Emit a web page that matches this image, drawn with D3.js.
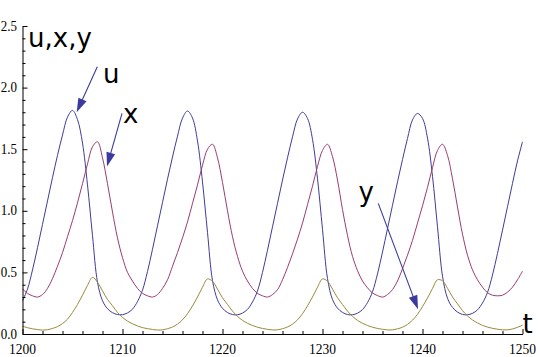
<!DOCTYPE html>
<html>
<head>
<meta charset="utf-8">
<script src="https://cdn.jsdelivr.net/npm/d3@7"></script>
<style>
  html, body { margin: 0; padding: 0; background: #fff; }
  svg { display: block; }
</style>
</head>
<body>
<svg id="chart" width="540" height="357"></svg>
<script>
// ---- data ----
const times = [
  1200,1200.5,1201,1201.5,1202,1202.5,1203,1203.5,1204,1204.5,
  1205,1205.5,1206,1206.5,1207,1207.5,1208,1208.5,1209,1209.5,
  1210,1210.5,1211,1211.5,1212,1212.5,1213,1213.5,1214,1214.5,
  1215,1215.5,1216,1216.5,1217,1217.5,1218,1218.5,1219,1219.5,
  1220,1220.5,1221,1221.5,1222,1222.5,1223,1223.5,1224,1224.5,
  1225,1225.5,1226,1226.5,1227,1227.5,1228,1228.5,1229,1229.5,
  1230,1230.5,1231,1231.5,1232,1232.5,1233,1233.5,1234,1234.5,
  1235,1235.5,1236,1236.5,1237,1237.5,1238,1238.5,1239,1239.5,
  1240,1240.5,1241,1241.5,1242,1242.5,1243,1243.5,1244,1244.5,
  1245,1245.5,1246,1246.5,1247,1247.5,1248,1248.5,1249,1249.5,
  1250
];
const uValues = [
  0.27,0.365,0.52,0.70,0.89,1.08,1.27,1.45,1.615,1.76,
  1.815,1.74,1.55,1.21,0.80,0.42,0.27,0.205,0.173,0.158,
  0.157,0.171,0.202,0.264,0.356,0.507,0.688,0.878,1.068,1.257,
  1.437,1.606,1.752,1.81,1.753,1.567,1.234,0.824,0.434,0.277,
  0.209,0.174,0.158,0.156,0.17,0.20,0.26,0.35,0.50,0.68,
  0.87,1.06,1.25,1.43,1.60,1.745,1.80,1.75,1.58,1.26,
  0.85,0.45,0.28,0.21,0.175,0.158,0.156,0.169,0.198,0.255,
  0.343,0.488,0.665,0.855,1.045,1.235,1.416,1.587,1.738,1.79,
  1.75,1.59,1.28,0.87,0.47,0.29,0.216,0.178,0.159,0.156,
  0.168,0.196,0.252,0.337,0.479,0.655,0.843,1.033,1.223,1.405,
  1.56
];
const xValues = [
  0.367,0.33,0.31,0.30,0.32,0.37,0.45,0.55,0.66,0.79,
  0.92,1.065,1.22,1.38,1.52,1.56,1.43,1.22,0.99,0.78,
  0.62,0.50,0.43,0.37,0.33,0.31,0.30,0.32,0.37,0.44,
  0.55,0.66,0.78,0.91,1.06,1.21,1.37,1.50,1.54,1.43,
  1.23,1.00,0.79,0.63,0.51,0.43,0.37,0.33,0.31,0.30,
  0.32,0.36,0.44,0.54,0.65,0.77,0.90,1.05,1.20,1.36,
  1.49,1.54,1.44,1.25,1.01,0.80,0.63,0.515,0.43,0.375,
  0.333,0.312,0.30,0.32,0.36,0.43,0.53,0.64,0.76,0.90,
  1.04,1.19,1.35,1.49,1.54,1.45,1.26,1.03,0.81,0.64,
  0.52,0.44,0.38,0.335,0.315,0.31,0.315,0.34,0.38,0.44,
  0.51
];
const yValues = [
  0.064,0.051,0.042,0.036,0.032,0.035,0.045,0.06,0.085,0.12,
  0.175,0.24,0.315,0.395,0.46,0.42,0.35,0.28,0.23,0.175,
  0.135,0.105,0.083,0.065,0.052,0.043,0.037,0.032,0.034,0.043,
  0.057,0.08,0.115,0.165,0.228,0.30,0.38,0.447,0.428,0.364,
  0.294,0.24,0.186,0.143,0.111,0.087,0.069,0.055,0.045,0.038,
  0.033,0.034,0.043,0.057,0.08,0.115,0.165,0.228,0.30,0.38,
  0.447,0.428,0.364,0.294,0.24,0.186,0.143,0.111,0.087,0.069,
  0.055,0.045,0.038,0.033,0.034,0.042,0.055,0.078,0.112,0.16,
  0.222,0.292,0.37,0.44,0.432,0.371,0.301,0.245,0.19,0.147,
  0.114,0.09,0.07,0.056,0.046,0.039,0.034,0.034,0.041,0.054,
  0.072
];
const seriesNames = ["u", "x", "y"];
const xTickValues = [1200, 1210, 1220, 1230, 1240, 1250];
const yTickValues = [0.0, 0.5, 1.0, 1.5, 2.0, 2.5];
const xTickLabels = ["1200", "1210", "1220", "1230", "1240", "1250"];
const yTickLabels = ["0.0", "0.5", "1.0", "1.5", "2.0", "2.5"];
const axisLabelY = "u,x,y";
const axisLabelX = "t";

// ---- drawing ----
const svg = d3.select("#chart");
const xs = d3.scaleLinear().domain([1200, 1250]).range([22.5, 522.5]);
const ys = d3.scaleLinear().domain([0, 2.5]).range([334, 26]);
const colors = ["#3d3d99", "#993d71", "#998b3d"];

const xMinor = d3.range(1200, 1250.001, 2).filter(v => v % 10 !== 0);
const yMinor = d3.range(0, 2.5001, 0.1).map(v => +v.toFixed(1)).filter(v => Math.abs(v * 2 - Math.round(v * 2)) > 1e-6);

// series lines
const seriesValues = [uValues, xValues, yValues];
const line = d3.line()
  .x(d => xs(d[0]))
  .y(d => ys(d[1]))
  .curve(d3.curveCatmullRom.alpha(0.5));
seriesValues.forEach((vals, i) => {
  svg.append("path")
    .datum(times.map((t, k) => [t, vals[k]]))
    .attr("class", "series-" + seriesNames[i])
    .attr("fill", "none")
    .attr("stroke", colors[i])
    .attr("stroke-width", 1)
    .attr("d", line);
});

// axes (ticks point inward, Mathematica style)
const gx = svg.append("g").attr("transform", "translate(0,334)");
gx.call(d3.axisBottom(xs).tickValues(xTickValues).tickSize(-5).tickSizeOuter(0).tickFormat(""));
const gxm = svg.append("g").attr("transform", "translate(0,334)");
gxm.call(d3.axisBottom(xs).tickValues(xMinor).tickSize(-3).tickSizeOuter(0).tickFormat(""));
gxm.select(".domain").remove();

const gy = svg.append("g").attr("transform", "translate(22.5,0)");
gy.call(d3.axisLeft(ys).tickValues(yTickValues).tickSize(-5).tickSizeOuter(0).tickFormat(""));
const gym = svg.append("g").attr("transform", "translate(22.5,0)");
gym.call(d3.axisLeft(ys).tickValues(yMinor).tickSize(-3).tickSizeOuter(0).tickFormat(""));
gym.select(".domain").remove();

svg.selectAll(".domain").attr("stroke", "#000").attr("stroke-width", 1);
svg.selectAll(".tick line").attr("stroke", "#000").attr("stroke-width", 1);

// tick labels (slightly tall serif digits as in the reference)
const fontTick = "'Liberation Serif', 'Times New Roman', serif";
svg.append("g").selectAll("text").data(xTickValues).join("text")
  .attr("transform", d => `translate(${xs(d)},354) scale(1,1.15)`)
  .attr("text-anchor", "middle")
  .attr("font-family", fontTick).attr("font-size", 13.5).attr("fill", "#000")
  .text((d, i) => xTickLabels[i]);
svg.append("g").selectAll("text").data(yTickValues).join("text")
  .attr("transform", d => `translate(17,${ys(d) + 4.5}) scale(1,1.2)`)
  .attr("text-anchor", "end")
  .attr("font-family", fontTick).attr("font-size", 13).attr("fill", "#000")
  .text((d, i) => yTickLabels[i]);

// annotation labels and arrows (placed in data coordinates)
const fontLab = "'DejaVu Sans', Verdana, sans-serif";
const labels = [
  { text: axisLabelY, t: 1200.55, v: 2.33 },
  { text: seriesNames[0], t: 1208.05, v: 2.04 },
  { text: seriesNames[1], t: 1210.05, v: 1.71 },
  { text: seriesNames[2], t: 1233.6, v: 1.08 },
  { text: axisLabelX, t: 1250.0, v: 0.008 }
];
svg.selectAll("text.lab").data(labels).join("text")
  .attr("class", "lab")
  .attr("x", d => xs(d.t)).attr("y", d => ys(d.v))
  .attr("font-family", fontLab).attr("font-size", 26).attr("fill", "#000")
  .text(d => d.text);

const arrows = [
  { t0: 1207.48, v0: 2.17, t1: 1205.42, v1: 1.80 },
  { t0: 1209.95, v0: 1.79, t1: 1208.45, v1: 1.36 },
  { t0: 1235.58, v0: 1.06, t1: 1239.55, v1: 0.20 }
];
const arrowColor = "#3b3b9e";
arrows.forEach(a => {
  const x0 = xs(a.t0), y0 = ys(a.v0), x1 = xs(a.t1), y1 = ys(a.v1);
  const len = Math.hypot(x1 - x0, y1 - y0);
  const ux = (x1 - x0) / len, uy = (y1 - y0) / len;
  const hl = 14, hw = 4.5;
  const bx = x1 - ux * hl, by = y1 - uy * hl;
  svg.append("line")
    .attr("x1", x0).attr("y1", y0).attr("x2", bx + ux * 2).attr("y2", by + uy * 2)
    .attr("stroke", arrowColor).attr("stroke-width", 1.1);
  svg.append("path")
    .attr("d", `M${x1},${y1}L${bx - uy * hw},${by + ux * hw}L${bx + uy * hw},${by - ux * hw}Z`)
    .attr("fill", arrowColor);
});
</script>
</body>
</html>
